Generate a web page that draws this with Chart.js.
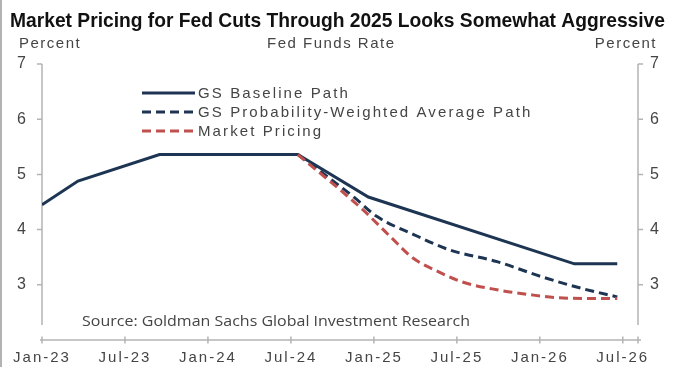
<!DOCTYPE html>
<html>
<head>
<meta charset="utf-8">
<script src="https://cdn.jsdelivr.net/npm/chart.js@4.4.0/dist/chart.umd.min.js"></script>
<style>
  html, body { margin: 0; padding: 0; background: #ffffff; }
  #wrap { width: 675px; height: 367px; position: relative; }
</style>
</head>
<body>
<div id="wrap"><canvas id="c" width="675" height="367"></canvas></div>
<script>
// ---- Data (months since Jan-23 on x, percent on y) ----
const chartTitle = 'Market Pricing for Fed Cuts Through 2025 Looks Somewhat Aggressive';
const centerLabel = 'Fed Funds Rate';
const axisUnit = 'Percent';
const sourceNote = 'Source: Goldman Sachs Global Investment Research';

const tickMonths = [0, 6, 12, 18, 24, 30, 36, 42];
const tickLabels = ['Jan-23', 'Jul-23', 'Jan-24', 'Jul-24', 'Jan-25', 'Jul-25', 'Jan-26', 'Jul-26'];
const yTicks = [3, 4, 5, 6, 7];

const seriesNames = ['GS Baseline Path', 'GS Probability-Weighted Average Path', 'Market Pricing'];

const baselineMonths = [0, 2.6, 8.5, 18.5, 23.6, 38.5, 41.6];
const baselineValues = [4.45, 4.88, 5.36, 5.36, 4.59, 3.38, 3.38];

const probMonths = [18.5, 22.6, 24.2, 26.8, 29.5, 32.9, 36.2, 39.1, 41.6];
const probValues = [5.36, 4.58, 4.24, 3.92, 3.63, 3.42, 3.14, 2.93, 2.78];

const marketMonths = [18.5, 23.2, 25.2, 26.8, 28.8, 30.4, 32.9, 35.3, 37.7, 41.6];
const marketValues = [5.36, 4.36, 3.87, 3.49, 3.22, 3.05, 2.91, 2.82, 2.76, 2.75];

const toPoints = (xs, ys) => xs.map((x, i) => ({ x: x, y: ys[i] }));

const NAVY = '#1d3553';
const RED = '#c0504d';
const AXIS = '#b4b4b4';
const TEXT = '#454545';

const decorPlugin = {
  id: 'decor',
  beforeDraw(chart) {
    chart.ctx.letterSpacing = '2px';
  },
  beforeDatasetsDraw(chart) {
    const ctx = chart.ctx;
    const xs = chart.scales.x, yl = chart.scales.y, yr = chart.scales.y2;
    ctx.save();
    ctx.strokeStyle = AXIS;
    ctx.lineWidth = 1.5;
    const yTop = yl.getPixelForValue(7);
    const yBot = yl.getPixelForValue(2.27);
    const xl = xs.getPixelForValue(0);
    const xr = xs.getPixelForValue(xs.max);
    ctx.beginPath();
    ctx.moveTo(xl, yTop); ctx.lineTo(xl, yBot);
    yTicks.forEach(v => { const p = yl.getPixelForValue(v); ctx.moveTo(xl - 5, p); ctx.lineTo(xl, p); });
    ctx.moveTo(xr, yTop); ctx.lineTo(xr, yBot);
    yTicks.forEach(v => { const p = yr.getPixelForValue(v); ctx.moveTo(xr, p); ctx.lineTo(xr + 5, p); });
    const yb = yl.getPixelForValue(yl.min);
    ctx.moveTo(xl - 2, yb); ctx.lineTo(xr + 3, yb);
    tickMonths.forEach(m => { const p = xs.getPixelForValue(m); ctx.moveTo(p, yb - 3.5); ctx.lineTo(p, yb + 3.5); });
    ctx.moveTo(xr, yb - 3.5); ctx.lineTo(xr, yb + 3.5);
    ctx.stroke();
    ctx.restore();
  },
  afterDraw(chart) {
    const ctx = chart.ctx;
    ctx.save();
    ctx.strokeStyle = '#9a9a9a';
    ctx.lineWidth = 1.5;
    ctx.beginPath(); ctx.moveTo(1, 0); ctx.lineTo(1, 367); ctx.stroke();

    // title
    ctx.letterSpacing = '0px';
    ctx.fillStyle = '#111111';
    ctx.font = 'bold 21px "Liberation Sans Narrow", "Liberation Sans", Arial, sans-serif';
    ctx.textBaseline = 'alphabetic';
    ctx.textAlign = 'left';
    const tw = ctx.measureText(chartTitle).width;
    ctx.save();
    ctx.translate(10, 27);
    ctx.scale(655 / tw, 1);
    ctx.fillText(chartTitle, 0, 0);
    ctx.restore();

    // unit labels
    ctx.fillStyle = TEXT;
    ctx.letterSpacing = '1.5px';
    ctx.font = '15px "Liberation Sans", Arial, sans-serif';
    ctx.textAlign = 'left';
    ctx.fillText(axisUnit, 19, 48);
    ctx.textAlign = 'right';
    ctx.fillText(axisUnit, 657, 48);
    ctx.textAlign = 'left';
    ctx.fillText(centerLabel, 267, 48);

    // legend
    const rows = [93, 112, 131];
    chart.data.datasets.forEach((d, i) => {
      const y = rows[i];
      ctx.save();
      ctx.strokeStyle = d.borderColor;
      ctx.lineWidth = 3;
      ctx.setLineDash(d.borderDash || []);
      ctx.beginPath(); ctx.moveTo(142, y); ctx.lineTo(195, y); ctx.stroke();
      ctx.restore();
      ctx.fillStyle = TEXT;
      ctx.letterSpacing = '2.1px';
      ctx.font = '15px "Liberation Sans", Arial, sans-serif';
      ctx.textBaseline = 'middle';
      ctx.textAlign = 'left';
      ctx.fillText(d.label, 198, y + 1);
    });

    // source
    ctx.letterSpacing = '0px';
    ctx.font = '15px "Open Sans", "Noto Sans", sans-serif';
    const sw = ctx.measureText(sourceNote).width;
    ctx.textBaseline = 'alphabetic';
    ctx.save();
    ctx.translate(82, 326);
    ctx.scale(388 / sw, 1);
    ctx.fillText(sourceNote, 0, 0);
    ctx.restore();
    ctx.restore();
  }
};

const ctx = document.getElementById('c').getContext('2d');
new Chart(ctx, {
  type: 'line',
  data: {
    datasets: [
      { label: seriesNames[0], data: toPoints(baselineMonths, baselineValues), borderColor: NAVY, borderWidth: 3, pointRadius: 0, tension: 0, order: 3 },
      { label: seriesNames[1], data: toPoints(probMonths, probValues), borderColor: NAVY, borderWidth: 3, borderDash: [9, 5], pointRadius: 0, cubicInterpolationMode: 'monotone', order: 2 },
      { label: seriesNames[2], data: toPoints(marketMonths, marketValues), borderColor: RED, borderWidth: 3, borderDash: [9, 5], pointRadius: 0, cubicInterpolationMode: 'monotone', order: 1 }
    ]
  },
  options: {
    responsive: false,
    animation: false,
    events: [],
    layout: { padding: { top: 64, left: 0, right: 0, bottom: 0 } },
    plugins: { legend: { display: false }, tooltip: { enabled: false } },
    scales: {
      x: {
        type: 'linear', min: 0, max: 43.1,
        grid: { display: false }, border: { display: false },
        afterFit(s) { s.height = 27; },
        afterBuildTicks(s) { s.ticks = tickMonths.map(v => ({ value: v })); },
        ticks: {
          autoSkip: false, maxRotation: 0, padding: 1, color: TEXT,
          font: { family: '"Liberation Sans", Arial, sans-serif', size: 15 },
          callback: (v) => { const i = tickMonths.indexOf(v); return i >= 0 ? tickLabels[i] : ''; }
        }
      },
      y: {
        position: 'left', min: 2, max: 7,
        grid: { display: false }, border: { display: false },
        afterFit(s) { s.width = 42; },
        afterBuildTicks(s) { s.ticks = yTicks.map(v => ({ value: v })); },
        ticks: { padding: 6, color: TEXT, font: { family: '"Liberation Sans", Arial, sans-serif', size: 16 } }
      },
      y2: {
        position: 'right', min: 2, max: 7,
        grid: { display: false }, border: { display: false },
        afterFit(s) { s.width = 37; },
        afterBuildTicks(s) { s.ticks = yTicks.map(v => ({ value: v })); },
        ticks: { padding: 4, color: TEXT, font: { family: '"Liberation Sans", Arial, sans-serif', size: 16 } }
      }
    }
  },
  plugins: [decorPlugin]
});
</script>
</body>
</html>
